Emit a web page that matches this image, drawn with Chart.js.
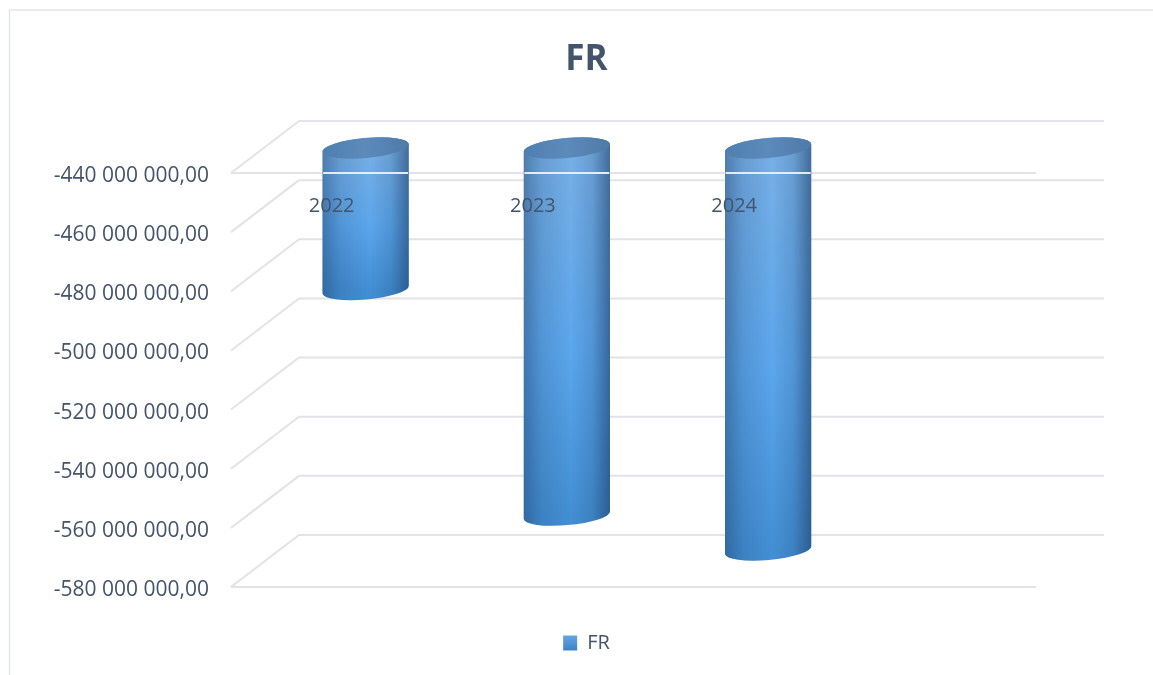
<!DOCTYPE html>
<html>
<head>
<meta charset="utf-8">
<title>FR</title>
<style>
    html, body { margin: 0; padding: 0; background: #fff; overflow: hidden; }
    canvas { display: block; }
</style>
<script src="https://cdn.jsdelivr.net/npm/chart.js@4"></script>
</head>
<body>
<canvas id="mainChart" width="1153" height="675"></canvas>
<script>
const categories = ['2022', '2023', '2024', ''];
const frValues = [-488200000, -564500000, -576300000, null];
const tickValues = [-440000000, -460000000, -480000000, -500000000, -520000000, -540000000, -560000000, -580000000];

const textColor = '#44546a';
const gridColor = '#e2e2e8';
const fontFamily = '"Open Sans", sans-serif';

// fake 3D depth of the plot box
const depthX = 68;
const depthY = 52;

function formatTick(value) {
    const digits = String(Math.abs(value)).replace(/\B(?=(\d{3})+$)/g, ' ');
    return (value < 0 ? '-' : '') + digits + ',00';
}

function drawLine(ctx, x1, y1, x2, y2) {
    ctx.beginPath();
    ctx.moveTo(x1, y1);
    ctx.lineTo(x2, y2);
    ctx.stroke();
}

function drawCylinder(ctx, cx, top, bottom, width) {
    const rx = width / 2 + 0.8;
    const ry = 10;
    const tilt = -0.09;
    const left = cx - width / 2;

    const body = ctx.createLinearGradient(0, top, 0, bottom);
    body.addColorStop(0, '#78b0e6');
    body.addColorStop(0.55, '#5ba6ec');
    body.addColorStop(1, '#438fd4');

    const side = ctx.createLinearGradient(left, 0, left + width, 0);
    side.addColorStop(0, 'rgba(25, 55, 95, 0.42)');
    side.addColorStop(0.2, 'rgba(25, 55, 95, 0.16)');
    side.addColorStop(0.55, 'rgba(25, 55, 95, 0)');
    side.addColorStop(0.8, 'rgba(25, 55, 95, 0.16)');
    side.addColorStop(1, 'rgba(25, 55, 95, 0.55)');

    const outline = () => {
        ctx.beginPath();
        ctx.ellipse(cx, top, rx, ry, tilt, 0, Math.PI, true);
        ctx.ellipse(cx, bottom, rx, ry, tilt, Math.PI, 0, true);
        ctx.closePath();
    };

    outline();
    ctx.fillStyle = body;
    ctx.fill();
    outline();
    ctx.fillStyle = side;
    ctx.fill();

    const cap = ctx.createLinearGradient(left, 0, left + width, 0);
    cap.addColorStop(0, '#4f7fb0');
    cap.addColorStop(0.5, '#5b8abb');
    cap.addColorStop(1, '#4f7aa8');
    ctx.beginPath();
    ctx.ellipse(cx, top, rx, ry, tilt, 0, Math.PI * 2);
    ctx.fillStyle = cap;
    ctx.fill();
}

const plotBox = {
    id: 'plotBox',
    beforeDraw(chart) {
        const { ctx, chartArea, scales } = chart;
        ctx.save();

        // chart frame, open at the bottom and right
        ctx.strokeStyle = '#e3e6ec';
        ctx.lineWidth = 1.5;
        ctx.beginPath();
        ctx.moveTo(9.5, 675);
        ctx.lineTo(9.5, 10);
        ctx.lineTo(1153, 10);
        ctx.stroke();

        ctx.strokeStyle = gridColor;
        ctx.lineWidth = 2;
        tickValues.forEach(value => {
            const y = scales.y.getPixelForValue(value);
            drawLine(ctx, chartArea.left, y, chartArea.left + depthX, y - depthY);
            drawLine(ctx, chartArea.left + depthX, y - depthY, chartArea.right + depthX, y - depthY);
        });
        drawLine(ctx, chartArea.left, chartArea.top, chartArea.right, chartArea.top);
        drawLine(ctx, chartArea.left, chartArea.bottom, chartArea.right, chartArea.bottom);
        ctx.restore();
    },
    beforeDatasetDraw(chart, args) {
        const { ctx } = chart;
        ctx.save();
        args.meta.data.forEach((bar, i) => {
            if (frValues[i] === null) return;
            const { x, y, base, width } = bar.getProps(['x', 'y', 'base', 'width'], true);
            drawCylinder(ctx, x + depthX / 2, base - depthY / 2 + 1, y - depthY / 2, width);
        });
        ctx.restore();
        return false; // the default flat bar is replaced by the cylinder
    },
    afterDatasetsDraw(chart) {
        const { ctx, chartArea } = chart;
        ctx.save();
        ctx.strokeStyle = '#e6ecf6';
        ctx.lineWidth = 2;
        chart.getDatasetMeta(0).data.forEach((bar, i) => {
            if (frValues[i] === null) return;
            const cx = bar.x + depthX / 2;
            drawLine(ctx, cx - bar.width / 2, chartArea.top, cx + bar.width / 2, chartArea.top);
        });
        ctx.restore();
    },
};

new Chart(document.getElementById('mainChart'), {
    type: 'bar',
    data: {
        labels: categories,
        datasets: [{
            label: 'FR',
            data: frValues,
            base: tickValues[0],
            backgroundColor: '#559ee6',
            barThickness: 85,
        }],
    },
    plugins: [plotBox],
    options: {
        responsive: false,
        animation: false,
        layout: { padding: { left: 20, bottom: 12 } },
        plugins: {
            tooltip: { enabled: false },
            title: {
                display: true,
                text: 'FR',
                color: textColor,
                font: { family: fontFamily, size: 35, weight: 'bold' },
                padding: { top: 39, bottom: 92 },
            },
            legend: {
                position: 'bottom',
                labels: {
                    color: textColor,
                    font: { family: fontFamily, size: 20 },
                    boxWidth: 14,
                    boxHeight: 15,
                    padding: 46,
                    generateLabels: chart => {
                        const swatch = chart.ctx.createLinearGradient(0, 636, 0, 651);
                        swatch.addColorStop(0, '#62a4e2');
                        swatch.addColorStop(1, '#3b82c4');
                        return [{ text: 'FR', fillStyle: swatch, strokeStyle: 'transparent', lineWidth: 0, fontColor: textColor, datasetIndex: 0 }];
                    },
                },
            },
        },
        scales: {
            x: {
                position: { y: tickValues[0] },
                grid: { display: false },
                border: { display: false },
                ticks: {
                    color: textColor,
                    font: { family: fontFamily, size: 20 },
                    padding: 13,
                    z: 1,
                    maxRotation: 0,
                },
            },
            y: {
                min: tickValues[tickValues.length - 1],
                max: tickValues[0],
                grid: { display: false },
                border: { display: false },
                afterBuildTicks: scale => {
                    scale.ticks = tickValues.map(value => ({ value }));
                },
                afterFit: scale => { scale.width = 211; },
                ticks: {
                    color: textColor,
                    font: { family: fontFamily, size: 21 },
                    padding: 14,
                    labelOffset: 3,
                    callback: formatTick,
                },
            },
            rightGap: {
                axis: 'y',
                position: 'right',
                grid: { display: false },
                border: { display: false },
                ticks: { display: false },
                afterFit: scale => { scale.width = 117; },
            },
        },
    },
});
</script>
</body>
</html>
